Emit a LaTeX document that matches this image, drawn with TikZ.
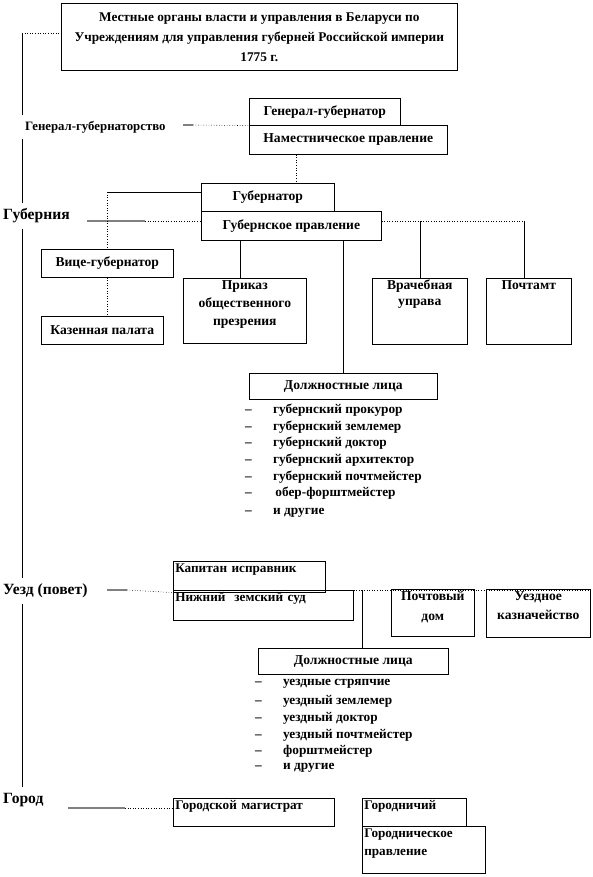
\documentclass[tikz,border=0pt]{standalone}
\usepackage{fontspec}
\setmainfont{Liberation Serif}
\usetikzlibrary{positioning}
\tikzset{
	orgbox/.style={draw, line width=0.6pt, inner sep=2pt, anchor=north west, align=center, font=\bfseries\fontsize{13.6}{15}\selectfont},
	leftbox/.style={orgbox, align=left, font=\bfseries\fontsize{13.2}{15}\selectfont},
	levellabel/.style={anchor=west, inner xsep=0pt, inner ysep=6pt},
	listitem/.style={anchor=west, inner sep=0pt, font=\bfseries\fontsize{13.3}{15}\selectfont},
	levelline/.style={black!50, line width=1.4pt},
	linkdot/.style={dotted, line width=0.6pt},
	link/.style={line width=0.6pt},
}
\newcommand{\dashitem}[1]{\makebox[28pt][l]{--}#1}

\begin{document}
\begin{tikzpicture}[x=1pt, y=-1pt]
	\useasboundingbox (0,0) rectangle (593,877);

	% title
	\node[orgbox, minimum width=396pt, minimum height=67pt, font=\bfseries\fontsize{13.3}{20}\selectfont] (title) at (61,3)
		{Местные органы власти и управления в Беларуси по\\Учреждениям для управления губерней Российской империи\\1775 г.};

	% level labels on the left
	\node[levellabel, font=\bfseries\fontsize{12.8}{14}\selectfont] (lggub) at (25,127) {Генерал-губернаторство};
	\node[levellabel, font=\bfseries\fontsize{15.6}{17}\selectfont] (lgub) at (3,216) {Губерния};
	\node[levellabel, font=\bfseries\fontsize{15.6}{17}\selectfont] (luezd) at (3,591) {Уезд (повет)};
	\node[levellabel, font=\bfseries\fontsize{15.6}{17}\selectfont] (lgorod) at (3,800) {Город};

	\coordinate (spine) at (22,33);
	\draw[linkdot] (spine) -- (spine -| title.west);
	\draw[link] (spine) -- (spine |- lggub.north);
	\draw[link] (spine |- lggub.south) -- (spine |- lgub.north);
	\draw[link] (spine |- lgub.south) -- (spine |- luezd.north);
	\draw[link] (spine |- luezd.south) -- (spine |- lgorod.north);

	% general-governorship
	\node[orgbox, minimum width=151pt, minimum height=27pt] (gg) at (249,98) {Генерал-губернатор};
	\node[orgbox, minimum width=198pt, minimum height=29pt] (nam) at (249,125) {Наместническое правление};
	\coordinate (ggl) at (183,125);
	\coordinate (ggm) at (193,125);
	\draw[levelline] (ggl) -- (ggm);
	\draw[linkdot] (ggm) -- (gg.south west);

	% gubernia
	\node[orgbox, minimum width=133pt, minimum height=28pt] (gub) at (201,183) {Губернатор};
	\node[orgbox, minimum width=180pt, minimum height=29pt] (gubpr) at (201,211) {Губернское правление};
	\coordinate (namout) at ([xshift=-52pt]nam.south);
	\draw[linkdot] (namout) -- (namout |- gub.north);

	\node[orgbox, minimum width=132pt, minimum height=28pt] (vice) at (41,249) {Вице-губернатор};
	\node[orgbox, minimum width=122pt, minimum height=28pt] (kaz) at (41,316) {Казенная палата};
	\node[orgbox, text width=119pt, text height=9pt, text depth=52pt, font=\bfseries\fontsize{13.6}{18}\selectfont] (prikaz) at (183,278)
		{Приказ\\общественного\\презрения};
	\node[orgbox, text width=91pt, text height=9pt, text depth=53pt, font=\bfseries\fontsize{13.6}{16}\selectfont] (vrach) at (372,278)
		{Врачебная\\управа};
	\node[orgbox, text width=81pt, text height=9pt, text depth=53pt] (pocht) at (486,278) {Почтамт};
	\node[orgbox, minimum width=188pt, minimum height=26pt] (dolzh1) at (249,373) {Должностные лица};

	\coordinate (gubl) at (87,221);
	\coordinate (gubm) at (145,221);
	\coordinate (gubwl) at ([yshift=5pt]gub.west);
	\coordinate (prikin) at ([xshift=-5pt]prikaz.north);
	\coordinate (pochtin) at ([xshift=-5pt]pocht.north);
	\draw[levelline] (gubl) -- (gubm);
	\draw[linkdot] (gubm) -- (gubm -| gubpr.west);
	\draw[linkdot] (gubm -| gubpr.east) -- (gubm -| pochtin);
	\draw[link] (gubwl) -- (gubwl -| vice.north);
	\draw[linkdot] (gubwl -| vice.north) -- (vice.north);
	\draw[linkdot] (vice.south) -- (vice.south |- kaz.north);
	\draw[link] (prikin |- gubpr.south) -- (prikin);
	\draw[link] (dolzh1.north |- gubpr.south) -- (dolzh1.north);
	\draw[link] (vrach.north |- gubm) -- (vrach.north);
	\draw[link] (pochtin |- gubm) -- (pochtin);

	\foreach \y/\t [count=\i] in {410/губернский прокурор, 427/губернский землемер, 443/губернский доктор,
			460/губернский архитектор, 477/губернский почтмейстер, 493/\,обер-форштмейстер, 513/и другие}
		\node[listitem] (gl\i) at (245,\y) {\dashitem{\t}};

	% uezd
	\node[leftbox, text width=148pt, text height=9pt, text depth=18pt] (kap) at (173,561) {Капитан исправник};
	\node[leftbox, text width=176pt, text height=9pt, text depth=17pt] (nizh) at (173,590) {Нижний\ \ земский суд};
	\node[orgbox, text width=79pt, text height=9pt, text depth=34pt, font=\bfseries\fontsize{13.6}{20}\selectfont] (pochdom) at (391,589)
		{Почтовый\\дом};
	\node[orgbox, text width=100pt, text height=9pt, text depth=35pt, font=\bfseries\fontsize{13.6}{19}\selectfont] (kazn) at (486,589)
		{Уездное\\казначейство};
	\node[orgbox, minimum width=190pt, minimum height=26pt] (dolzh2) at (258,648) {Должностные лица};

	\coordinate (uezl) at (107,590);
	\coordinate (uezm) at (127,590);
	\coordinate (dolin) at ([xshift=9pt]dolzh2.north);
	\draw[levelline] (uezl) -- (uezm);
	\draw[linkdot] (uezm) -- (kap.south west);
	\draw[linkdot] (nizh.north east) -- (nizh.north east -| kazn.east);
	\draw[link] (dolin |- nizh.north east) -- (dolin);

	\foreach \y/\t [count=\i] in {684/уездные стряпчие, 701/уездный землемер, 718/уездный доктор,
			735/уездный почтмейстер, 751/форштмейстер, 768/и другие}
		\node[listitem] (ul\i) at (255,\y) {\dashitem{\t}};

	% town
	\node[leftbox, text width=157pt, text height=9pt, text depth=15pt] (mag) at (173,798) {Городской магистрат};
	\node[leftbox, text width=100pt, text height=9pt, text depth=15pt] (gorodn) at (362,798) {Городничий};
	\node[leftbox, text width=119pt, text height=9pt, text depth=34pt, font=\bfseries\fontsize{13.2}{18}\selectfont] (gorpr) at (362,826)
		{Городническое\\правление};

	\coordinate (gorl) at (68,808);
	\coordinate (gorm) at (125,808);
	\draw[levelline] (gorl) -- (gorm);
	\draw[linkdot] (gorm) -- (gorm -| mag.west);
\end{tikzpicture}
\end{document}
